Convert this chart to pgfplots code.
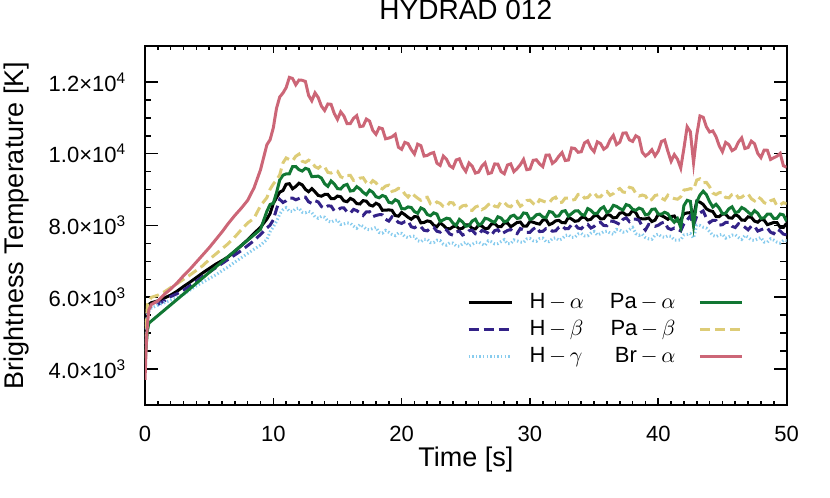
\documentclass[border=0pt]{standalone}
\usepackage{fontspec}
\setmainfont{Liberation Sans}
\usepackage{pgfplots}
\usepackage{pgfplotstable}
\pgfplotsset{compat=1.18}
\definecolor{tolrose}{HTML}{CC6677}
\definecolor{tolsand}{HTML}{DDCC77}
\definecolor{tolgreen}{HTML}{117733}
\definecolor{tolindigo}{HTML}{332288}
\definecolor{tolcyan}{HTML}{88CCEE}

\pgfplotstableread{
t br pab paa ha hb hg
0 3700 4300 4150 4400 4700 4500
0.1 4700 5300 4700 5300 5400 5300
0.2 5300 5800 5100 5650 5600 5500
0.3 5650 5900 5280 5800 5700 5600
0.5 5800 6000 5340 5850 5750 5700
1 5900 6060 5490 5900 5800 5780
1.5 6080 6150 5640 5980 5900 5850
2 6230 6270 5790 6060 6020 5920
2.5 6400 6380 5940 6170 6100 5990
3 6600 6500 6090 6300 6200 6080
3.5 6780 6620 6240 6420 6320 6200
4 6980 6750 6390 6550 6450 6320
4.5 7180 6880 6540 6680 6580 6420
5 7380 7050 6690 6800 6700 6520
5.5 7600 7200 6840 6920 6820 6620
6 7820 7350 6990 7020 6940 6740
6.5 8060 7500 7140 7130 7060 6850
7 8280 7680 7290 7280 7180 6980
7.5 8480 7880 7440 7440 7300 7100
8 8700 8070 7590 7600 7440 7220
8.5 9050 8200 7740 7780 7580 7340
9 9550 8550 7890 7950 7750 7450
9.5 10250 8776 8399 8180 7928 7608
9.75 10390 9010 8585 8335 8011 7825
10 10722 9156 8619 8613 8158 7960
10.25 11265 9262 8915 8776 8458 8114
10.5 11580 9412 9268 8929 8727 8320
10.75 11690 9743 9401 8973 8641 8439
11 11840 9882 9437 9149 8687 8498
11.25 12125 9835 9440 9165 8763 8395
11.5 12094 9802 9640 9023 8764 8390
11.75 11920 9928 9643 9086 8716 8472
12 12052 9988 9555 9178 8751 8486
12.25 12045 9790 9517 9133 8799 8371
12.5 12012 9758 9592 9008 8790 8356
12.75 11625 9820 9562 8941 8659 8395
13 11474 9766 9360 9027 8615 8360
13.25 11695 9640 9368 8938 8690 8242
13.5 11564 9594 9374 8837 8656 8202
13.75 11325 9675 9320 8816 8529 8253
14 11204 9630 9164 8864 8480 8230
14.25 11385 9480 9090 8864 8545 8125
14.5 11376 9460 9240 8751 8542 8090
14.75 11120 9513 9159 8749 8410 8136
15 10956 9514 9028 8820 8422 8154
15.25 11165 9357 9017 8800 8487 8030
15.5 11052 9320 9115 8685 8490 8042
15.75 10835 9390 9145 8664 8377 8073
16 10838 9398 8960 8756 8344 8062
16.25 10985 9257 8974 8710 8449 7983
16.5 11060 9268 9081 8610 8415 7924
16.75 10755 9320 9018 8600 8352 8025
17 10770 9330 8923 8692 8280 7974
17.25 10965 9195 8858 8677 8381 7896
17.5 10908 9136 8983 8572 8383 7884
17.75 10650 9250 8927 8542 8245 7917
18 10540 9190 8801 8620 8279 7946
18.25 10725 9072 8773 8574 8301 7805
18.5 10696 9020 8836 8424 8299 7786
18.75 10415 9098 8801 8427 8173 7864
19 10436 9122 8646 8435 8123 7812
19.25 10470 8950 8626 8421 8240 7752
19.5 10540 8976 8719 8280 8178 7718
19.75 10180 9035 8670 8260 8086 7790
20 10122 9006 8469 8363 8058 7780
20.25 10315 8877 8465 8301 8108 7694
20.5 10280 8792 8518 8229 8127 7660
20.75 10115 8908 8501 8173 7966 7709
21 9990 8832 8387 8249 7937 7698
21.25 10265 8760 8340 8240 7988 7575
21.5 10224 8702 8490 8073 7964 7550
21.75 9935 8778 8443 8086 7866 7617
22 9952 8788 8305 8128 7851 7616
22.25 10005 8600 8272 8108 7929 7521
22.5 10032 8578 8352 8008 7950 7526
22.75 9735 8655 8317 7966 7839 7590
23 9674 8616 8110 8077 7815 7580
23.25 9935 8530 8158 8003 7900 7477
23.5 9844 8524 8204 7917 7876 7452
23.75 9665 8640 8185 7906 7764 7518
24 9604 8630 8064 7964 7730 7510
24.25 9825 8490 8005 7989 7820 7430
24.5 9856 8480 8170 7901 7842 7420
24.75 9635 8548 8099 7924 7735 7491
25 9506 8564 7978 8020 7772 7534
25.25 9740 8432 7997 8015 7852 7435
25.5 9652 8420 8125 7915 7870 7472
25.75 9460 8515 8175 7904 7767 7528
26 9488 8548 8010 8006 7744 7542
26.25 9650 8442 8059 7985 7859 7483
26.5 9740 8488 8201 7910 7835 7444
26.75 9445 8580 8178 7925 7787 7570
27 9470 8630 8123 8042 7730 7544
27.25 9715 8535 8088 8052 7856 7486
27.5 9708 8516 8243 7972 7883 7494
27.75 9500 8665 8207 7967 7760 7552
28 9440 8640 8101 8070 7809 7606
28.25 9685 8547 8133 8069 7861 7490
28.5 9716 8520 8256 7964 7889 7496
28.75 9500 8623 8286 8022 7793 7599
29 9586 8672 8196 8085 7773 7572
29.25 9695 8535 8216 8096 7915 7537
29.5 9840 8596 8349 7980 7878 7528
29.75 9555 8695 8335 7985 7811 7625
30 9572 8706 8169 8113 7808 7640
30.25 9815 8612 8205 8091 7898 7574
30.5 9830 8562 8298 8059 7957 7560
30.75 9715 8718 8316 8038 7831 7634
31 9640 8682 8237 8149 7837 7648
31.25 9960 8650 8215 8165 7913 7550
31.5 9964 8632 8390 8023 7914 7550
31.75 9730 8743 8368 8061 7841 7637
32 9802 8788 8255 8128 7851 7656
32.25 9930 8635 8267 8143 7949 7591
32.5 10032 8648 8392 8078 7990 7626
32.75 9810 8765 8412 8076 7909 7720
33 9824 8766 8260 8227 7915 7740
33.25 10160 8705 8333 8178 8025 7667
33.5 10144 8724 8404 8117 8026 7672
33.75 10040 8865 8410 8131 7929 7763
34 10054 8880 8314 8214 7910 7780
34.25 10300 8765 8280 8239 8005 7710
34.5 10356 8780 8470 8151 8032 7710
34.75 10160 8873 8424 8174 7930 7786
35 10056 8914 8328 8270 7972 7834
35.25 10330 8797 8342 8275 8062 7735
35.5 10282 8800 8465 8185 8090 7772
35.75 10125 8905 8520 8189 8002 7828
36 10188 8948 8360 8306 7994 7842
36.25 10385 8842 8414 8285 8124 7788
36.5 10510 8888 8561 8210 8115 7754
36.75 10255 8980 8533 8225 8077 7890
37 10320 9030 8473 8342 8030 7874
37.25 10575 8935 8433 8362 8171 7816
37.5 10578 8916 8583 8292 8213 7824
37.75 10385 9065 8552 8302 8110 7887
38 10340 9040 8451 8420 8179 7946
38.25 10500 8897 8423 8359 8176 7775
38.5 10446 8820 8486 8194 8149 7726
38.75 10040 8848 8451 8187 7973 7759
39 9936 8822 8296 8185 7873 7662
39.25 10005 8675 8316 8211 8030 7627
39.5 10110 8726 8449 8110 8008 7618
39.75 9940 8835 8460 8150 7976 7730
40 10072 8856 8319 8313 8008 7760
40.25 10340 8762 8315 8276 8068 7689
40.5 10380 8712 8368 8229 8097 7670
40.75 10065 8843 8326 8173 7926 7714
41 9790 8782 8187 8249 7887 7698
41.25 9975 8750 8090 8265 7928 7595
41.5 9844 8732 8190 8123 7894 7590
41.75 9600 8800 7950 8150 7850 7600
42 10152 8988 8555 8328 8051 7736
42.25 10750 9000 8700 8350 8150 7750
42.5 10612 9028 8672 8358 8270 7776
42.75 9750 9000 8000 8250 8000 7650
43 10524 9266 8660 8677 8265 8010
43.25 11050 9300 8850 8650 8350 8000
43.5 11014 9194 8954 8587 8406 7952
43.75 10750 9200 8860 8466 8204 7928
44 10604 9080 8664 8414 8080 7830
44.25 10635 8905 8515 8389 8145 7725
44.5 10476 8860 8590 8251 8142 7690
44.75 10220 8913 8484 8249 8010 7736
45 10056 8914 8328 8320 8022 7754
45.25 10315 8782 8342 8315 8087 7650
45.5 10252 8770 8465 8215 8090 7682
45.75 10085 8865 8520 8204 7977 7733
46 10138 8898 8360 8306 7944 7742
46.25 10325 8767 8384 8255 8049 7668
46.5 10440 8788 8501 8150 8015 7614
46.75 10145 8855 8453 8145 7952 7720
47 10170 8880 8373 8242 7880 7674
47.25 10350 8745 8298 8227 7981 7596
47.5 10278 8686 8413 8122 7983 7584
47.75 10010 8800 8342 8092 7845 7627
48 9890 8740 8201 8170 7879 7666
48.25 10100 8637 8213 8149 7916 7540
48.5 10096 8600 8316 8024 7929 7536
48.75 9840 8688 8316 8052 7813 7629
49 9886 8722 8196 8085 7773 7592
49.25 9930 8550 8201 8081 7900 7537
49.5 10010 8576 8319 7950 7848 7508
49.75 9665 8635 8295 7945 7761 7585
50 9622 8606 8119 8063 7738 7580
}\data

\pgfplotsset{
  base/.style={scale only axis, width=320.8pt, height=179.5pt,
    xmin=0, xmax=50, ymin=3000, ymax=13000},
  leg/.style={draw=none, fill=none, inner sep=0pt, outer sep=0pt,
    font=\fontsize{11}{13}\selectfont, row sep=0pt,
    nodes={inner sep=1.5pt, text height=8pt, text depth=2.5pt}},
}

\begin{document}
\begin{tikzpicture}
\begin{axis}[base,
  xtick={0,10,...,50}, minor x tick num=9,
  ytick={4000,6000,8000,10000,12000}, minor y tick num=3,
  yticklabels={{4.0×10\textsuperscript{3}},{6.0×10\textsuperscript{3}},{8.0×10\textsuperscript{3}},{1.0×10\textsuperscript{4}},{1.2×10\textsuperscript{4}}},
  scaled y ticks=false,
  axis line style={line width=1pt},
  every tick/.style={black, line width=0.8pt},
  xtick style={/pgfplots/major tick length=3.6pt,/pgfplots/minor tick length=1.8pt},
  ytick style={/pgfplots/major tick length=6.4pt,/pgfplots/minor tick length=3.2pt},
  tick label style={font=\fontsize{11}{13}\selectfont, inner sep=0pt},
  xticklabel style={yshift=-10.5pt},
  yticklabel style={xshift=-9.2pt},
  /pgf/number format/assume math mode=true,
  xlabel={Time [s]}, ylabel={Brightness Temperature [K]},
  label style={font=\fontsize{13.5}{16}\selectfont, inner sep=0pt},
  xlabel style={at={(axis description cs:0.5,-0.1719)}, anchor=base},
  ylabel style={at={(axis description cs:-0.1886,0.5)}, anchor=base},
  title={HYDRAD 012},
  title style={at={(axis description cs:0.5,1.0398)}, anchor=base, inner sep=0pt, font=\fontsize{14}{16}\selectfont},
  legend style={leg, at={(axis cs:25.1,6226)}, anchor=north west, column sep=6.8pt},
  legend cell align=left,
  legend image code/.code={\draw[#1] (0pt,0pt) -- (21.5pt,0pt);},
]
\addplot[black, line width=1.5pt] table[x=t,y=ha]{\data};
\addlegendentry{H\,$-$\,$\alpha$}
\addplot[tolindigo, line width=1.5pt, dash pattern=on 5pt off 2.5pt] table[x=t,y=hb]{\data};
\addlegendentry{H\,$-$\,$\beta$}
\addplot[tolcyan, line width=1.5pt, dash pattern=on 0.7pt off 1.1pt] table[x=t,y=hg]{\data};
\addlegendentry{H\,$-$\,$\gamma$}
\end{axis}
\begin{axis}[base, hide axis,
  legend style={leg, at={(axis cs:46.63,6226)}, anchor=north east, column sep=10pt},
  legend plot pos=right, legend cell align=right,
  legend image code/.code={\draw[#1] (0pt,0pt) -- (21pt,0pt);},
]
\addplot[tolgreen, line width=1.5pt] table[x=t,y=paa]{\data};
\addlegendentry{Pa\,$-$\,$\alpha$}
\addplot[tolsand, line width=1.5pt, dash pattern=on 5pt off 2.5pt] table[x=t,y=pab]{\data};
\addlegendentry{Pa\,$-$\,$\beta$}
\addplot[tolrose, line width=1.5pt] table[x=t,y=br]{\data};
\addlegendentry{Br\,$-$\,$\alpha$}
\end{axis}
\pgfresetboundingbox
\path[use as bounding box] (-72.5pt,-46.5pt) rectangle (342.5pt,202.5pt);
\end{tikzpicture}
\end{document}
